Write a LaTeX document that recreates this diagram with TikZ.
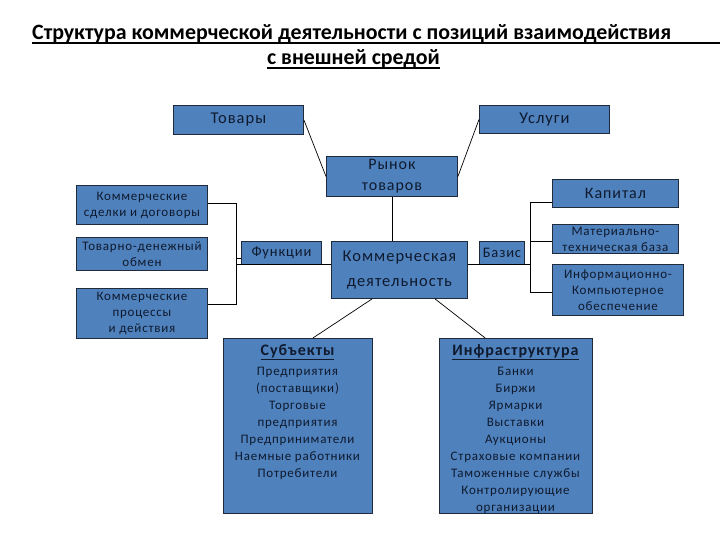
\documentclass[tikz,border=0pt]{standalone}
\usepackage{fontspec}
\setmainfont{Carlito}
\newfontfamily\spacedfont[LetterSpace=6]{Carlito}
\usetikzlibrary{calc}
\definecolor{boxblue}{HTML}{4F81BD}
\definecolor{boxline}{HTML}{1F2A3C}
\definecolor{boxtext}{HTML}{0F1A2E}
\newcommand{\fsz}[2]{\fontsize{#1}{#2}\selectfont}
\begin{document}
\begin{tikzpicture}[x=1pt,y=-1pt,
  box/.style={draw=boxline, fill=boxblue, line width=0.9pt, inner sep=0pt, align=center, text=boxtext, anchor=north west},
  conn/.style={draw=black, line width=0.7pt},
  lst/.style={inner sep=0pt, align=center, text=boxtext, anchor=north}]
\useasboundingbox (0,0) rectangle (720,540);
\coordinate (rightedge) at (720,0);
% title
\node[anchor=base west, inner sep=0pt, font=\bfseries\fsz{21.9}{24}] (t1) at (32,40) {Структура коммерческой деятельности с позиций взаимодействия};
\node[anchor=base, inner sep=0pt, font=\bfseries\fsz{21.9}{24}] (t2) at (353.5,65) {с внешней средой};
\coordinate (u1) at ([yshift=-3pt]t1.base west);
\coordinate (u2) at ([yshift=-3pt]t2.base west);
\coordinate (u2e) at ([yshift=-3pt]t2.base east);
\draw[line width=1.2pt] (u1) -- (u1 -| rightedge);
\draw[line width=1.2pt] (u2) -- (u2e);
% top boxes
\node[box, minimum width=130pt, minimum height=29pt, font=\spacedfont\fsz{16.5}{18}] (tovary) at (173,105) {Товары};
\node[box, minimum width=130pt, minimum height=28pt, font=\spacedfont\fsz{16.5}{18}] (uslugi) at (479,105) {Услуги};
\node[box, minimum width=131pt, minimum height=40pt, font=\spacedfont\fsz{16}{21}] (rynok) at (326,156) {Рынок\\товаров};
% center
\node[box, minimum width=136pt, minimum height=57pt, font=\spacedfont\fsz{16.5}{25}] (komm) at (331,241) {Коммерческая\\деятельность};
\node[box, minimum width=80pt, minimum height=23pt, font=\spacedfont\fsz{14.5}{16}] (funk) at (241,241) {Функции};
\node[box, minimum width=45pt, minimum height=23pt, font=\spacedfont\fsz{14.5}{16}] (bazis) at (479,241) {Базис};
% left
\node[box, minimum width=131pt, minimum height=39pt, font=\spacedfont\fsz{13}{16}] (sdelki) at (76,185) {Коммерческие\\сделки и договоры};
\node[box, minimum width=131pt, minimum height=33pt, font=\spacedfont\fsz{13}{16}] (obmen) at (76,237) {Товарно-денежный\\обмен};
\node[box, minimum width=131pt, minimum height=50pt, font=\spacedfont\fsz{13}{16}] (proc) at (76,288) {Коммерческие\\процессы\\и действия};
% right
\node[box, minimum width=126pt, minimum height=28pt, font=\spacedfont\fsz{16}{18}] (kapital) at (552,179) {Капитал};
\node[box, minimum width=126pt, minimum height=29pt, font=\spacedfont\fsz{13}{16}] (mat) at (552,224) {Материально-\\техническая база};
\node[box, minimum width=131pt, minimum height=51pt, font=\spacedfont\fsz{13}{16}] (inf) at (552,264) {Информационно-\\Компьютерное\\обеспечение};
% bottom
\node[box, minimum width=149pt, minimum height=175pt] (subj) at (223,338) {};
\node[box, minimum width=153pt, minimum height=175pt] (infra) at (439,338) {};
\node[lst, font=\spacedfont\fsz{13}{17}] (subjtext) at (297.5,344) {{\bfseries\fsz{16}{17}\underline{Субъекты}}\\[3pt]Предприятия\\(поставщики)\\Торговые\\предприятия\\Предприниматели\\Наемные работники\\Потребители};
\node[lst, font=\spacedfont\fsz{13}{17}] (infratext) at (515.5,344) {{\bfseries\fsz{16}{17}\underline{Инфраструктура}}\\[3pt]Банки\\Биржи\\Ярмарки\\Выставки\\Аукционы\\Страховые компании\\Таможенные службы\\Контролирующие\\организации};
% connectors
\draw[conn] (tovary.east) -- (rynok.west);
\draw[conn] (uslugi.west) -- (rynok.east);
\draw[conn] (rynok.south) -- (rynok.south |- komm.north);
\draw[conn] ($(komm.south west)!0.3!(komm.south east)$) -- ($(subj.north west)!0.6!(subj.north east)$);
\draw[conn] ($(komm.south west)!0.76!(komm.south east)$) -- ($(infra.north west)!0.3!(infra.north east)$);
% left bracket
\coordinate (lb1) at (236,203);
\coordinate (lb2) at (236,304);
\coordinate (lm) at (236,264);
\coordinate (lf) at (236,258);
\draw[conn] (lb1 -| sdelki.east) -- (lb1) -- (lb2) -- (lb2 -| proc.east);
\draw[conn] (lm) -- (lm -| komm.west);
\draw[conn] (lf) -- (lf -| funk.west);
% right bracket
\coordinate (rb1) at (530,202);
\coordinate (rb2) at (530,292);
\coordinate (rm) at (530,264);
\coordinate (rmat) at (530,241);
\draw[conn] (rb1 -| kapital.west) -- (rb1) -- (rb2) -- (rb2 -| inf.west);
\draw[conn] (rmat) -- (rmat -| mat.west);
\draw[conn] (rm -| komm.east) -- (rm);
\end{tikzpicture}
\end{document}
